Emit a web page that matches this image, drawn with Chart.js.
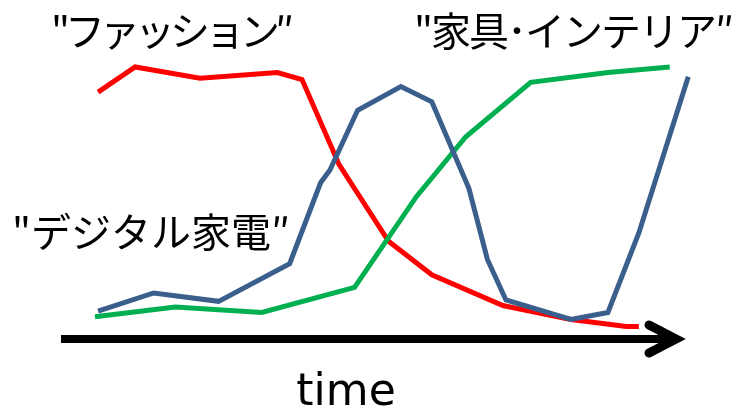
<!DOCTYPE html>
<html>
<head>
<meta charset="utf-8">
<script src="https://cdn.jsdelivr.net/npm/chart.js@4/dist/chart.umd.min.js"></script>
<style>
  html, body { margin: 0; padding: 0; background: #fff; }
  canvas { display: block; }
</style>
</head>
<body>
<canvas id="trendChart" width="743" height="411"></canvas>
<script>
// time runs 0..100 along the arrow, level 0..100 above it
const fashionTime = [6, 12, 22.5, 35, 39, 45, 53, 60, 71.5, 82.5, 91.5, 93.5];
const fashionLevel = [88.5, 97.5, 93.5, 95.5, 93, 62.5, 35, 23, 12, 7, 4.5, 4.5];

const digitalTime = [6, 15, 25.5, 37, 42, 43.5, 48, 55, 60, 66, 69, 72, 82.5, 88.5, 93.5, 101.5];
const digitalLevel = [10, 16.5, 13.5, 27, 56, 60.5, 82, 90.5, 85, 54, 28.5, 14, 7, 9.5, 38, 94];

const interiorTime = [5.5, 18.5, 32.5, 47.5, 57.5, 65.5, 76, 88.5, 98.5];
const interiorLevel = [8, 11.5, 9.5, 18.5, 51, 72.5, 92, 95.5, 97.5];

const labels = [
  { text: '"ファッション″', x: 51, y: 31, spacing: -5 },
  { text: '"家具･インテリア″', x: 414, y: 31, spacing: -2 },
  { text: '"デジタル家電″', x: 12, y: 232, spacing: 0 }
];
const axisTitle = 'time';

const toPoints = (ts, vs) => ts.map((t, i) => ({ x: t, y: vs[i] }));

// black arrow along the time axis plus the category captions
const arrowAndLabels = {
  id: 'arrowAndLabels',
  afterDatasetsDraw(chart) {
    const { ctx, scales: { x, y } } = chart;
    const y0 = y.getPixelForValue(0);
    const xStart = x.getPixelForValue(0);
    const xTip = x.getPixelForValue(100);
    ctx.save();
    ctx.strokeStyle = '#000';
    ctx.lineWidth = 8;
    ctx.beginPath();
    ctx.moveTo(xStart, y0);
    ctx.lineTo(xTip - 4, y0);
    ctx.stroke();
    ctx.lineWidth = 9;
    ctx.lineCap = 'round';
    ctx.lineJoin = 'miter';
    ctx.beginPath();
    ctx.moveTo(xTip - 30, y0 - 14);
    ctx.lineTo(xTip - 3, y0);
    ctx.lineTo(xTip - 30, y0 + 14);
    ctx.stroke();

    ctx.fillStyle = '#000';
    ctx.textBaseline = 'middle';
    ctx.textAlign = 'left';
    ctx.font = '40px "Noto Sans CJK JP"';
    labels.forEach(l => {
      ctx.letterSpacing = l.spacing + 'px';
      ctx.fillText(l.text, l.x, l.y);
    });
    ctx.letterSpacing = '0px';

    ctx.textAlign = 'center';
    ctx.textBaseline = 'alphabetic';
    ctx.font = '44px "DejaVu Sans"';
    ctx.fillText(axisTitle, 346, 405);
    ctx.restore();
  }
};

new Chart(document.getElementById('trendChart'), {
  type: 'line',
  data: {
    datasets: [
      {
        label: 'デジタル家電',
        data: toPoints(digitalTime, digitalLevel),
        borderColor: '#3B5F8D',
        order: 0
      },
      {
        label: '家具・インテリア',
        data: toPoints(interiorTime, interiorLevel),
        borderColor: '#00B050',
        order: 1
      },
      {
        label: 'ファッション',
        data: toPoints(fashionTime, fashionLevel),
        borderColor: '#FF0000',
        order: 2
      }
    ]
  },
  options: {
    responsive: false,
    animation: false,
    devicePixelRatio: 1,
    layout: { padding: { left: 61, right: 64, top: 60, bottom: 72 } },
    elements: {
      line: { borderWidth: 5, tension: 0, fill: false, borderCapStyle: 'butt' },
      point: { radius: 0, hoverRadius: 0 }
    },
    datasets: { line: { clip: false } },
    plugins: { legend: { display: false }, tooltip: { enabled: false } },
    scales: {
      x: { type: 'linear', min: 0, max: 100, display: false },
      y: { type: 'linear', min: 0, max: 100, display: false }
    }
  },
  plugins: [arrowAndLabels]
});
</script>
</body>
</html>
